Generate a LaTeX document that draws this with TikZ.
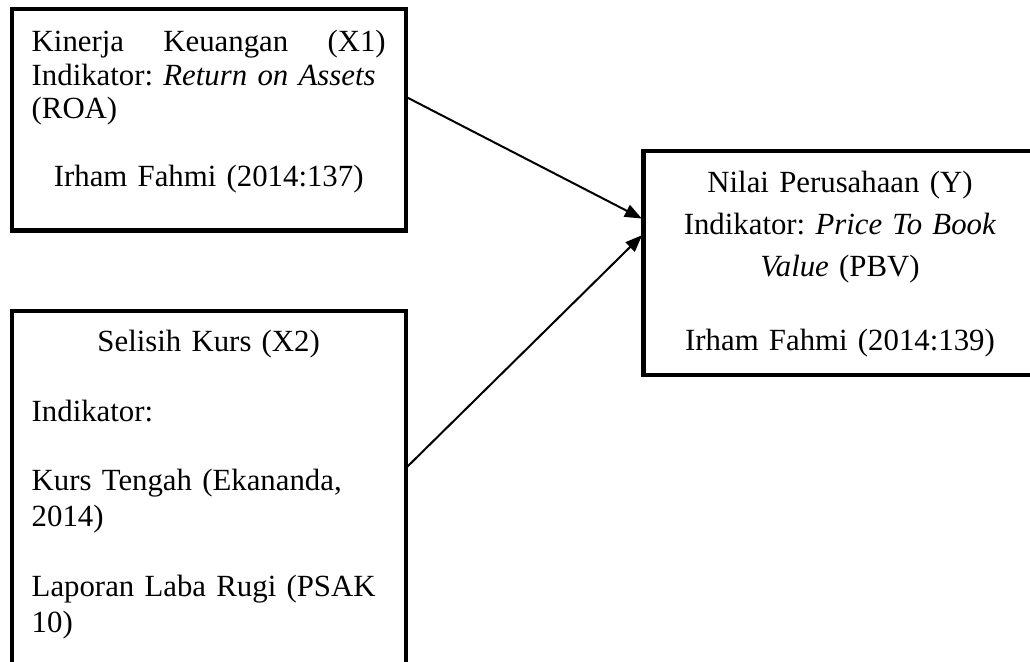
\documentclass[tikz,border=0pt]{standalone}
\usepackage{fontspec}
\setmainfont{Liberation Serif}
\usepackage{tikz}
\usetikzlibrary{calc,arrows.meta}

\begin{document}
\begin{tikzpicture}[x=0.5pt,y=-0.5pt,
		box/.style={draw,line width=2.2pt,rectangle,outer sep=0pt,inner ysep=0pt,anchor=north west},
		link/.style={line width=1pt,-{Triangle[length=8.5pt,width=6.5pt]},shorten >=0.8pt}]
			\useasboundingbox (0,0) rectangle (1030,661);
			\clip (0,0) rectangle (1030,661);
			\node[box,text width=177pt,inner xsep=10pt,align=left,text height=21.35pt,text depth=89.4pt,
				font={\fontsize{15.4}{16.65}\selectfont\frenchspacing}] (X1) at (11.7,9)
				{Kinerja\hfill Keuangan\hfill (X1)\\ Indikator: \textit{Return on Assets}\\ (ROA)\\[17.55pt]
				\hfill Irham Fahmi (2014:137)\hfill\null};
			\node[box,text width=177pt,inner xsep=10pt,align=left,text height=20.35pt,text depth=184pt,
				font={\fontsize{15.4}{18}\selectfont\frenchspacing}] (X2) at (11.7,311)
				{\hfill Selisih Kurs (X2)\hfill\null\\[16.75pt] Indikator:\\[16.75pt] Kurs Tengah (Ekananda,\\ 2014)\\[16.75pt]
				Laporan Laba Rugi (PSAK\\ 10)};
			\node[box,text width=170pt,inner xsep=13.35pt,align=center,text height=20.85pt,text depth=91.25pt,
				font={\fontsize{15.4}{21}\selectfont\frenchspacing}] (Y) at (643.3,150.8)
				{Nilai Perusahaan (Y)\\ Indikator: \textit{Price To Book}\\ \textit{Value} (PBV)\\[15.75pt]
				Irham Fahmi (2014:139)};
			\draw[link] ([yshift=-43.85pt]X1.north east) -- ([yshift=-34.25pt]Y.north west);
			\draw[link] ([yshift=-78.65pt]X2.north east) -- ([yshift=-41.6pt]Y.north west);
		\end{tikzpicture}
\end{document}
